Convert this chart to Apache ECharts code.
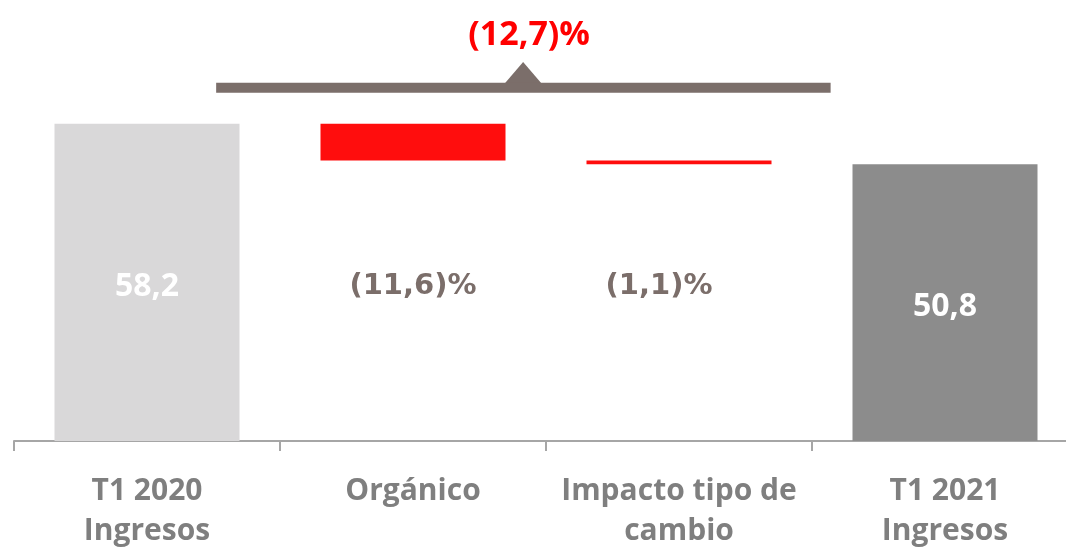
<!DOCTYPE html>
<html>
<head>
<meta charset="utf-8">
<script src="https://cdn.jsdelivr.net/npm/echarts@6/dist/echarts.min.js"></script>
<style>
html, body { margin: 0; padding: 0; background: #fff; }
#main { width: 1066px; height: 549px; }
</style>
</head>
<body>
<div id="main"></div>
<script>
// datos
var categorias = ['T1 2020\nIngresos', 'Orgánico', 'Impacto tipo de\ncambio', 'T1 2021\nIngresos'];
var baseInvisible = [0, 51.45, 50.8, 0];
var valores = [58.2, 6.75, 0.65, 50.8];
var etiquetas = ['58,2', '(11,6)%', '(1,1)%', '50,8'];
var variacionTotal = '(12,7)%';
// corchete de la variacion total (eje x auxiliar: indice de categoria)
var corcheteX = [0.26, 2.57];
var corcheteY = 64.8;
var flechaX = 1.414;
var flechaY = 67.6;

var colores = ['#D9D8D9', '#FF0D0D', '#FF0D0D', '#8C8C8C'];

var chart = echarts.init(document.getElementById('main'));

var baseData = [];
var valorData = [];
for (var i = 0; i < categorias.length; i++) {
    var esTotal = (i == 0 || i == 3);
    baseData.push({
        value: baseInvisible[i],
        label: {
            show: !esTotal,
            position: 'inside',
            offset: i == 2 ? [-20, -16] : [0, -14],
            formatter: etiquetas[i],
            color: '#7B6E6A',
            fontFamily: 'DejaVu Sans',
            fontWeight: 'bold',
            fontSize: 29
        }
    });
    valorData.push({
        value: valores[i],
        itemStyle: { color: colores[i] },
        label: {
            show: esTotal,
            position: 'inside',
            offset: [0, 4],
            formatter: etiquetas[i],
            color: '#fff',
            fontFamily: 'Open Sans',
            fontWeight: 'bold',
            fontSize: 32
        }
    });
}

var option = {
    animation: false,
    grid: { left: 14, top: 5, width: 1064, height: 436, outerBoundsMode: 'none' },
    xAxis: [{
        type: 'category',
        data: categorias,
        axisLine: { lineStyle: { color: '#A6A6A6', width: 2 } },
        axisTick: { show: true, interval: 0, length: 10, lineStyle: { color: '#A6A6A6', width: 2 } },
        axisLabel: {
            interval: 0,
            color: '#7F7F7F',
            fontFamily: 'Open Sans',
            fontWeight: 'bold',
            fontSize: 30,
            lineHeight: 40,
            margin: 30
        }
    }, {
        type: 'value',
        min: -0.5,
        max: 3.5,
        show: false
    }],
    yAxis: { type: 'value', min: 0, max: 80, show: false },
    series: [{
        name: 'base',
        type: 'bar',
        stack: 'w',
        barWidth: 185,
        itemStyle: { color: 'transparent' },
        data: baseData
    }, {
        name: 'valor',
        type: 'bar',
        stack: 'w',
        barWidth: 185,
        data: valorData
    }, {
        name: 'corchete',
        type: 'line',
        xAxisIndex: 1,
        symbol: 'none',
        lineStyle: { color: '#7B6E6A', width: 10, cap: 'butt' },
        data: [[corcheteX[0], corcheteY], [corcheteX[1], corcheteY]]
    }, {
        name: 'flecha',
        type: 'scatter',
        xAxisIndex: 1,
        symbol: 'triangle',
        symbolSize: [36, 21],
        itemStyle: { color: '#7B6E6A', opacity: 1 },
        label: {
            show: true,
            position: 'top',
            distance: 10,
            offset: [6, 0],
            formatter: variacionTotal,
            color: '#FF0000',
            fontFamily: 'Open Sans',
            fontWeight: 'bold',
            fontSize: 34
        },
        data: [[flechaX, flechaY]]
    }]
};
chart.setOption(option);
</script>
</body>
</html>
